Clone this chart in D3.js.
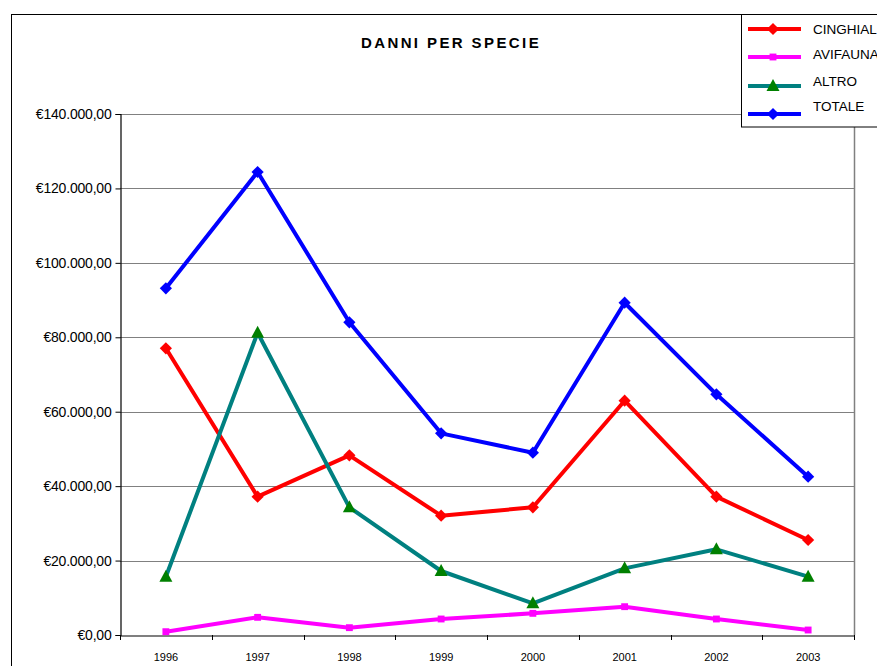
<!DOCTYPE html>
<html><head><meta charset="utf-8">
<script src="https://cdn.jsdelivr.net/npm/d3@7"></script>
<style>body{margin:0;background:#fff}svg{display:block;font-family:"Liberation Sans",Arial,sans-serif}</style>
</head><body><svg id="c" width="877" height="666"></svg>
<script>
const years = ["1996","1997","1998","1999","2000","2001","2002","2003"];
const cinghiali = [77040, 37170, 48280, 32060, 34310, 62960, 37170, 25530];
const avifauna  = [890, 4750, 1970, 4300, 5820, 7610, 4300, 1340];
const altro     = [15670, 81230, 34310, 17200, 8510, 17910, 23020, 15670];
const totale    = [93150, 124410, 84020, 54190, 48990, 89290, 64670, 42540];
const yTicks = [0, 20000, 40000, 60000, 80000, 100000, 120000, 140000];
const seriesNames = ["CINGHIALI", "AVIFAUNA", "ALTRO", "TOTALE"];

const series = [
  {name: seriesNames[0], values: cinghiali, line: "#ff0000", fill: "#ff0000", marker: "diamond"},
  {name: seriesNames[1], values: avifauna,  line: "#ff00ff", fill: "#ff00ff", marker: "square"},
  {name: seriesNames[2], values: altro,     line: "#008080", fill: "#008000", marker: "triangle"},
  {name: seriesNames[3], values: totale,    line: "#0000ff", fill: "#0000ff", marker: "diamond"}
];

const svg = d3.select("#c");
const L = 120, R = 854, T = 114, B = 635;

// outer chart border
svg.append("line").attr("x1", 11.5).attr("x2", 11.5).attr("y1", 14).attr("y2", 666).attr("stroke", "#000");
svg.append("line").attr("x1", 11).attr("x2", 877).attr("y1", 14.5).attr("y2", 14.5).attr("stroke", "#000");

const x = d3.scaleBand().domain(years).range([L, R]);
const y = d3.scaleLinear().domain([0, 140000]).range([B, T]);

const loc = d3.formatLocale({decimal: ",", thousands: ".", grouping: [3], currency: ["€", ""]});
const fmt = loc.format("$,.2f");

// gridlines
svg.append("g").selectAll("line").data(yTicks.filter(d => d > 0)).join("line")
  .attr("x1", L).attr("x2", R)
  .attr("y1", d => Math.round(y(d)) + 0.5).attr("y2", d => Math.round(y(d)) + 0.5)
  .attr("stroke", "#808080").attr("stroke-width", 1.2);
// right border
svg.append("line").attr("x1", R + 0.5).attr("x2", R + 0.5).attr("y1", T).attr("y2", B)
  .attr("stroke", "#808080").attr("stroke-width", 1.5);

// y axis
const yAxis = svg.append("g").attr("transform", `translate(${L + 0.5},0)`)
  .call(d3.axisLeft(y).tickValues(yTicks).tickFormat(fmt).tickSize(5).tickPadding(4));
yAxis.select(".domain").attr("stroke", "#000").attr("stroke-width", 1.2);
yAxis.selectAll(".tick line").attr("stroke", "#000");
yAxis.selectAll("text").attr("font-size", 14).attr("fill", "#000").attr("letter-spacing", "-0.2px")
  .attr("font-family", '"Liberation Sans",Arial,sans-serif');

// x axis
const xAxis = svg.append("g").attr("transform", `translate(0,${B + 0.5})`)
  .call(d3.axisBottom(x).tickSize(0).tickPadding(18));
xAxis.select(".domain").attr("stroke", "#000").attr("stroke-width", 1.2);
xAxis.selectAll("text").attr("font-size", 11).attr("fill", "#000")
  .attr("font-family", '"Liberation Sans",Arial,sans-serif');
const bounds = years.map(d => x(d)).concat([R]);
svg.append("g").selectAll("line").data(bounds).join("line")
  .attr("x1", d => Math.round(d) + 0.5).attr("x2", d => Math.round(d) + 0.5)
  .attr("y1", B).attr("y2", B + 5).attr("stroke", "#000");

// title
svg.append("text").attr("x", 451).attr("y", 48).attr("text-anchor", "middle")
  .attr("font-size", 15).attr("font-weight", "bold").attr("letter-spacing", "2.4px")
  .text("DANNI PER SPECIE");

const symbols = {
  diamond: d3.symbol().type(d3.symbolDiamond2).size(95),
  square: d3.symbol().type(d3.symbolSquare2).size(60)
};
function triPath(cx, cy) {
  return `M${cx},${cy - 7}L${cx + 6.5},${cy + 5}L${cx - 6.5},${cy + 5}Z`;
}
function drawMarker(g, type, cx, cy, fill) {
  if (type === "triangle") {
    g.append("path").attr("d", triPath(cx, cy)).attr("fill", fill);
  } else {
    g.append("path").attr("d", symbols[type]()).attr("transform", `translate(${cx},${cy})`).attr("fill", fill);
  }
}

const lineGen = d3.line().x((d, i) => x(years[i]) + x.bandwidth() / 2).y(d => y(d));
series.forEach(s => {
  const g = svg.append("g");
  g.append("path").datum(s.values).attr("d", lineGen).attr("fill", "none")
    .attr("stroke", s.line).attr("stroke-width", 4).attr("stroke-linejoin", "round");
  s.values.forEach((v, i) => drawMarker(g, s.marker, x(years[i]) + x.bandwidth() / 2, y(v), s.fill));
});

// legend
const lg = svg.append("g");
lg.append("rect").attr("x", 741.5).attr("y", 14.5).attr("width", 140).attr("height", 112.5)
  .attr("fill", "#fff").attr("stroke", "#000");
const lineYs = [29, 57, 86, 114];
const textYs = [34, 59, 86, 111];
series.forEach((s, i) => {
  lg.append("line").attr("x1", 748).attr("x2", 801).attr("y1", lineYs[i]).attr("y2", lineYs[i])
    .attr("stroke", s.line).attr("stroke-width", 4);
  drawMarker(lg, s.marker, 773, lineYs[i], s.fill);
  lg.append("text").attr("x", 813).attr("y", textYs[i]).attr("font-size", 13.5).attr("fill", "#000")
    .text(s.name);
});
</script></body></html>
